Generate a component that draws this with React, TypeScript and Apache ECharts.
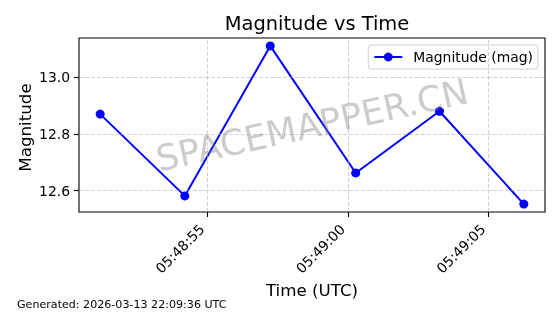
import React, { useEffect, useRef } from "react";
import * as echarts from "echarts";

const times = ["05:48:51.18", "05:48:54.19", "05:48:57.23", "05:49:00.27", "05:49:03.25", "05:49:06.25"];
const magnitudes = [12.87, 12.581, 13.111, 12.662, 12.88, 12.552];
const xTickLabels = ["05:48:55", "05:49:00", "05:49:05"];
const yTicks = [12.6, 12.8, 13.0];

const FONT = "DejaVu Sans";

function toSec(t: string): number {
  const [h, m, s] = t.split(":");
  return Number(h) * 3600 + Number(m) * 60 + Number(s);
}
function fmt(v: number): string {
  const r = Math.round(v);
  const h = Math.floor(r / 3600);
  const m = Math.floor((r % 3600) / 60);
  const s = r % 60;
  const p = (n: number) => String(n).padStart(2, "0");
  return `${p(h)}:${p(m)}:${p(s)}`;
}

export default function App() {
  const ref = useRef<HTMLDivElement>(null);
  useEffect(() => {
    if (!ref.current) return;
    const chart = echarts.init(ref.current, undefined, { renderer: "svg" });
    const xs = times.map(toSec);
    const xMinD = Math.min(...xs), xMaxD = Math.max(...xs);
    const yMinD = Math.min(...magnitudes), yMaxD = Math.max(...magnitudes);
    const xPad = (xMaxD - xMinD) * 0.05;
    const yPad = (yMaxD - yMinD) * 0.05;
    const xTicks = xTickLabels.map(toSec);
    const gridStyle = { color: "#b0b0b0", opacity: 0.7, width: 0.8, type: [4, 2] as any };

    chart.setOption({
      animation: false,
      title: {
        text: "Magnitude vs Time",
        left: 312,
        top: 9,
        textAlign: "center",
        textStyle: { fontFamily: FONT, fontSize: 19.44, fontWeight: "normal", color: "#000" },
      },
      legend: {
        data: ["Magnitude (mag)"],
        right: 22,
        top: 45,
        padding: [5, 5, 5, 5],
        itemWidth: 28,
        itemHeight: 11,
        borderColor: "#d0d0d0",
        borderWidth: 1,
        borderRadius: 3,
        backgroundColor: "rgba(255,255,255,0.8)",
        textStyle: { fontFamily: FONT, fontSize: 13.9, color: "#000", padding: [0, 0, 0, 6] },
      },
      grid: {
        left: 79,
        top: 38,
        right: 15,
        bottom: 102,
        show: true,
        borderColor: "#000",
        borderWidth: 1.1,
        backgroundColor: "transparent",
      },
      xAxis: {
        type: "value",
        min: xMinD - xPad,
        max: xMaxD + xPad,
        name: "Time (UTC)",
        nameLocation: "middle",
        nameGap: 69,
        nameMoveOverlap: false,
        nameTextStyle: { fontFamily: FONT, fontSize: 16.7, color: "#000" },
        axisLine: { show: false },
        splitLine: { show: false },
        axisTick: { show: true, length: 5, customValues: xTicks, lineStyle: { color: "#000", width: 1.1 } },
        axisLabel: {
          customValues: xTicks,
          rotate: 45,
          margin: 9,
          padding: [0, 8, 0, 0],
          fontFamily: FONT,
          fontSize: 13.9,
          color: "#000",
          formatter: (v: number) => fmt(v),
        },
      },
      yAxis: {
        type: "value",
        min: yMinD - yPad,
        max: yMaxD + yPad,
        name: "Magnitude",
        nameLocation: "middle",
        nameGap: 46,
        nameMoveOverlap: false,
        nameTextStyle: { fontFamily: FONT, fontSize: 16.7, color: "#000", padding: [0, 5, 0, 0] },
        axisLine: { show: false },
        splitLine: { show: false },
        axisTick: { show: true, length: 5, customValues: yTicks, lineStyle: { color: "#000", width: 1.1 } },
        axisLabel: {
          customValues: yTicks,
          margin: 9,
          fontFamily: FONT,
          fontSize: 13.9,
          color: "#000",
          formatter: (v: number) => v.toFixed(1),
        },
      },
      graphic: [
        {
          type: "text",
          x: 312,
          y: 125,
          rotation: (12.5 * Math.PI) / 180,
          z: 50,
          silent: true,
          style: {
            text: "SPACEMAPPER.CN",
            fontFamily: FONT,
            fontSize: 35.5,
            fill: "rgba(128,128,128,0.4)",
            textAlign: "center",
            textVerticalAlign: "middle",
          },
        },
        {
          type: "text",
          left: 17,
          top: 299,
          style: {
            text: "Generated: 2026-03-13 22:09:36 UTC",
            fontFamily: FONT,
            fontSize: 11.1,
            fill: "#000",
          },
        },
      ],
      series: [
        {
          name: "grid",
          type: "line",
          data: [],
          z: 1,
          silent: true,
          markLine: {
            silent: true,
            symbol: "none",
            label: { show: false },
            lineStyle: gridStyle,
            data: [
              ...xTicks.map((v) => ({ xAxis: v })),
              ...yTicks.map((v) => ({ yAxis: v })),
            ],
          },
        },
        {
          name: "Magnitude (mag)",
          type: "line",
          z: 3,
          data: xs.map((x, i) => [x, magnitudes[i]]),
          symbol: "circle",
          symbolSize: 9,
          showSymbol: true,
          itemStyle: { color: "#0000ff" },
          lineStyle: { color: "#0000ff", width: 2 },
        },
      ],
    });
    return () => chart.dispose();
  }, []);
  return <div ref={ref} style={{ position: "fixed", left: 0, top: 0, width: 560, height: 314 }} />;
}
